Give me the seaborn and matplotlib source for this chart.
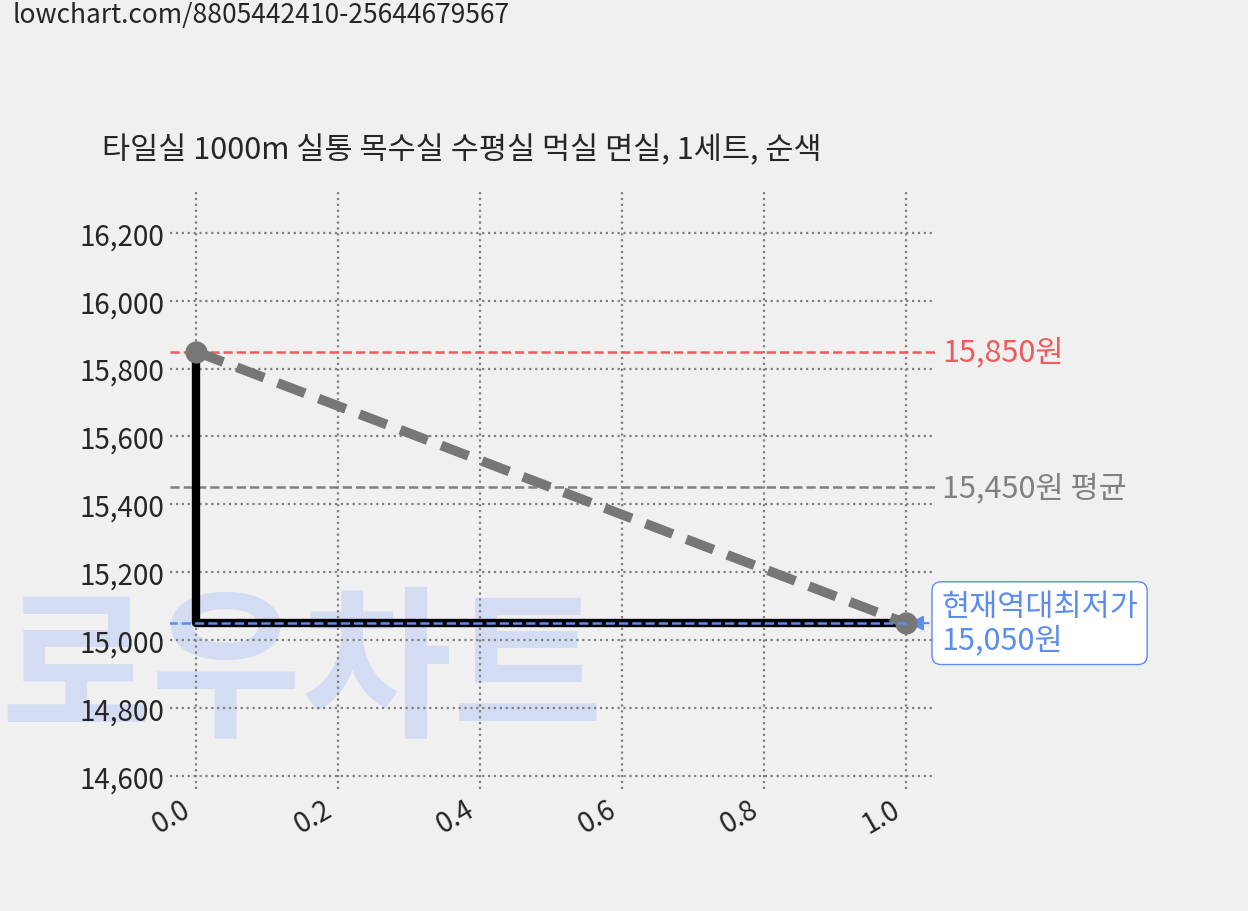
import matplotlib
matplotlib.use("Agg")
import matplotlib.pyplot as plt
import seaborn as sns
import pandas as pd

sns.set_style("whitegrid")
plt.rcParams['font.family'] = ['Noto Sans CJK KR', 'DejaVu Sans']

title = "타일실 1000m 실통 목수실 수평실 먹실 면실, 1세트, 순색"
x_vals = [0.0, 1.0]
prices = [15850, 15050]
max_price = 15850
avg_price = 15450
min_price = 15050
y_ticks = [14600, 14800, 15000, 15200, 15400, 15600, 15800, 16000, 16200]
x_ticks = [0.0, 0.2, 0.4, 0.6, 0.8, 1.0]

bg = '#f0f0f0'
fig = plt.figure(figsize=(12.48, 9.12), dpi=100, facecolor=bg)
ax = fig.add_axes([0.136, 0.134, 0.613, 0.658], facecolor=bg)

fig.text(0.01, 0.998, "lowchart.com/8805442410-25644679567", fontsize=19, va='top', ha='left')
# watermark behind the data
ax.text(0.0, 0.26, "로우차트", fontsize=118, fontweight='black', color='#d3dcf2',
        va='center', ha='left', zorder=0, transform=fig.transFigure, clip_on=False)

df = pd.DataFrame({'x': x_vals, 'price': prices})
# step line: drop down at x=0 then flat to the end
ax.plot([x_vals[0], x_vals[0], x_vals[1]], [prices[0], prices[1], prices[1]],
        color='black', lw=6, zorder=3)
sns.lineplot(data=df, x='x', y='price', ax=ax, color='#777777', lw=7,
             linestyle=(0, (3, 1.5)), marker='o', markersize=16,
             markeredgewidth=0, zorder=4)

ax.axhline(max_price, color='#f05a5a', ls='--', lw=1.8, zorder=2)
ax.axhline(avg_price, color='#808080', ls='--', lw=1.8, zorder=2)
ax.plot([-0.04, 1.0], [min_price, min_price], color='#5b8def', ls='--', lw=1.8, zorder=5)

ax.set_xlim(-0.037, 1.041)
ax.set_ylim(14562, 16330)
ax.set_xticks(x_ticks)
ax.set_yticks(y_ticks)
ax.set_yticklabels([f"{v:,}" for v in y_ticks], fontsize=20)
ax.set_xticklabels([f"{v:.1f}" for v in x_ticks], fontsize=20, rotation=30, ha='right')
ax.set_xlabel(''); ax.set_ylabel('')
ax.grid(True, color='#808080', ls=':', lw=1.6)
for s in ax.spines.values():
    s.set_visible(False)
ax.tick_params(axis='both', length=0)
fig.text(0.082, 0.835, title, fontsize=22, va='center', ha='left')

tr = ax.get_yaxis_transform()
ax.text(1.01, max_price, f"{max_price:,}원", color='#f05a5a', fontsize=22,
        va='center', ha='left', transform=tr, clip_on=False)
ax.text(1.01, avg_price, f"{avg_price:,}원 평균", color='#808080', fontsize=22,
        va='center', ha='left', transform=tr, clip_on=False)
ax.annotate(f"현재역대최저가\n{min_price:,}원", xy=(1.0, min_price), xytext=(1.05, min_price),
            color='#5b8def', fontsize=22, va='center', ha='left', annotation_clip=False,
            linespacing=1.1,
            bbox=dict(boxstyle='round,pad=0.3', fc='white', ec='#5b8def'),
            arrowprops=dict(arrowstyle='-|>', color='#5b8def', lw=1.5))

fig.savefig('out.png', dpi=100, facecolor=bg)
